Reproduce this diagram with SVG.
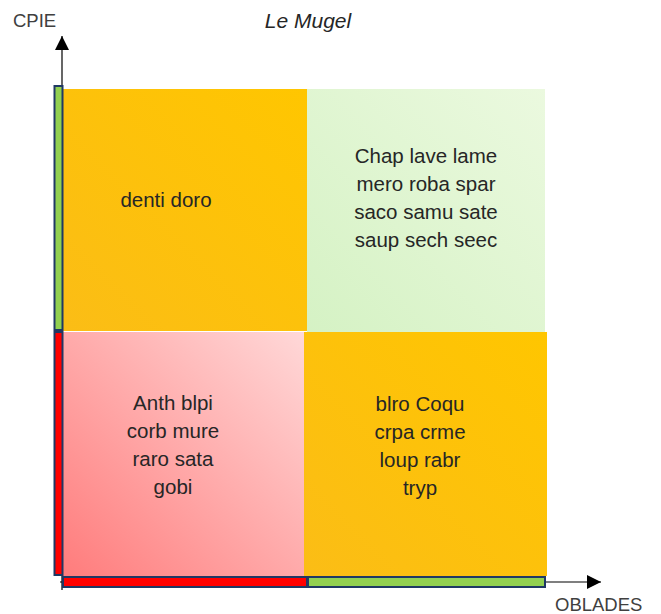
<svg xmlns="http://www.w3.org/2000/svg" width="661" height="614" viewBox="0 0 661 614">
<defs>
<style>
.t{font-family:"Liberation Sans",Arial,sans-serif;font-size:20.5px;fill:#262626;text-anchor:middle}
.ax{font-family:"Liberation Sans",Arial,sans-serif;font-size:18.5px;fill:#404040}
.bar{stroke:#1f3864;stroke-width:2}
.axis{stroke:#000;stroke-width:1.2;fill:none}
</style>
<linearGradient id="gO" x1="0" y1="1" x2="1" y2="0">
<stop offset="0" stop-color="#fbbd16"/><stop offset="1" stop-color="#ffc600"/>
</linearGradient>
<linearGradient id="gG" x1="0" y1="1" x2="1" y2="0">
<stop offset="0" stop-color="#d5f2c4"/><stop offset="1" stop-color="#ebf9df"/>
</linearGradient>
<linearGradient id="gP" x1="0" y1="1" x2="1" y2="0">
<stop offset="0" stop-color="#ff7c7c"/><stop offset="1" stop-color="#ffd8d8"/>
</linearGradient>
<marker id="arr" viewBox="0 0 10 10" refX="10" refY="5" markerWidth="14" markerHeight="14" markerUnits="userSpaceOnUse" orient="auto">
<path d="M0,0 L10,5 L0,10 z" fill="#000"/>
</marker>
</defs>
<rect width="661" height="614" fill="#fff"/>

<g id="connectors">
<line class="axis" x1="62" y1="590" x2="62" y2="36" marker-end="url(#arr)"/>
<line class="axis" x1="60" y1="582" x2="601" y2="582" marker-end="url(#arr)"/>
</g>

<g id="q-top-left">
<rect x="63" y="89" width="244" height="242" fill="url(#gO)"/>
<text class="t" x="166" y="207">denti doro</text>
</g>
<g id="q-top-right">
<rect x="307" y="89" width="238" height="243" fill="url(#gG)"/>
<text class="t" x="426" y="163">Chap lave lame</text>
<text class="t" x="426" y="191">mero roba spar</text>
<text class="t" x="426" y="219">saco samu sate</text>
<text class="t" x="426" y="247">saup sech seec</text>
</g>
<g id="q-bottom-left">
<rect x="63" y="332" width="241" height="244" fill="url(#gP)"/>
<text class="t" x="173" y="410">Anth blpi</text>
<text class="t" x="173" y="438">corb mure</text>
<text class="t" x="173" y="466">raro sata</text>
<text class="t" x="173" y="494">gobi</text>
</g>
<g id="q-bottom-right">
<rect x="304" y="332" width="243" height="244" fill="url(#gO)"/>
<text class="t" x="420" y="411">blro Coqu</text>
<text class="t" x="420" y="439">crpa crme</text>
<text class="t" x="420" y="467">loup rabr</text>
<text class="t" x="420" y="495">tryp</text>
</g>

<g id="bars">
<rect class="bar" x="54.5" y="86" width="8" height="244" fill="#92d050"/>
<rect class="bar" x="54.5" y="332" width="8" height="243" fill="#ff0000"/>
<rect class="bar" x="63" y="577" width="244" height="10" fill="#ff0000"/>
<rect class="bar" x="308" y="577" width="237" height="10" fill="#92d050"/>
</g>

<g id="labels">
<text class="ax" x="13" y="27">CPIE</text>
<text class="ax" x="555" y="611">OBLADES</text>
<text x="308" y="28" font-family="'Liberation Sans',Arial,sans-serif" font-style="italic" font-size="21px" fill="#262626" text-anchor="middle">Le Mugel</text>
</g>
</svg>
